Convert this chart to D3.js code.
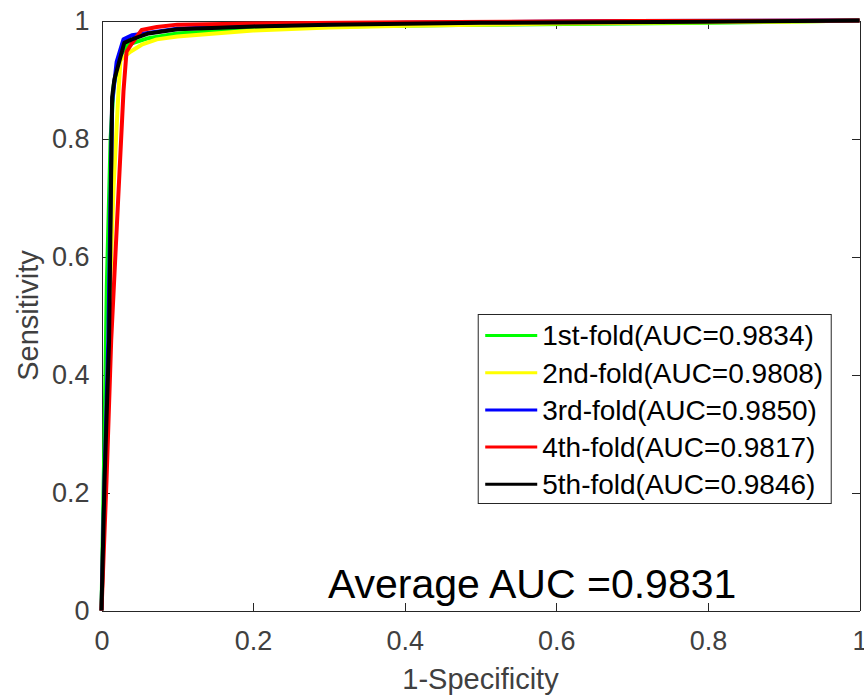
<!DOCTYPE html>
<html>
<head>
<meta charset="utf-8">
<script src="https://cdn.jsdelivr.net/npm/d3@7"></script>
<style>
  body { margin: 0; background: #fff; }
  svg { font-family: "Liberation Sans", Arial, sans-serif; }
  .axis path, .axis line { stroke: #262626; shape-rendering: crispEdges; }
  .axis text { fill: #404040; font-size: 27px; }
</style>
</head>
<body>
<svg id="chart"></svg>
<script>
// ROC points [1-specificity, sensitivity]
const fold1 = [[0,0],[0.004,0.30],[0.007,0.55],[0.012,0.80],[0.016,0.89],[0.025,0.94],[0.033,0.958],[0.044,0.963],[0.062,0.970],[0.1,0.978],[0.2,0.986],[0.3,0.990],[0.5,0.993],[0.8,0.996],[1,1]];
const fold2 = [[0,0],[0.005,0.25],[0.010,0.50],[0.016,0.72],[0.022,0.87],[0.025,0.933],[0.038,0.947],[0.053,0.959],[0.073,0.968],[0.1,0.973],[0.2,0.983],[0.3,0.988],[0.4,0.991],[0.6,0.995],[0.9,0.998],[1,1]];
const fold3 = [[0,0],[0.004,0.22],[0.009,0.46],[0.014,0.86],[0.020,0.93],[0.029,0.968],[0.04,0.975],[0.073,0.981],[0.1,0.986],[0.2,0.991],[0.4,0.996],[0.7,0.999],[1,1]];
const fold4 = [[0,0],[0.0066,0.22],[0.0128,0.458],[0.029,0.88],[0.033,0.947],[0.04,0.961],[0.053,0.984],[0.073,0.989],[0.1,0.993],[0.2,0.995],[0.4,0.997],[0.7,0.999],[1,1]];
const fold5 = [[0,0],[0.004,0.22],[0.010,0.458],[0.014,0.87],[0.017,0.90],[0.030,0.962],[0.040,0.968],[0.062,0.978],[0.1,0.985],[0.2,0.990],[0.3,0.993],[0.5,0.996],[0.8,0.998],[1,1]];

const foldLabels = ["1st-fold(AUC=0.9834)", "2nd-fold(AUC=0.9808)", "3rd-fold(AUC=0.9850)", "4th-fold(AUC=0.9817)", "5th-fold(AUC=0.9846)"];
const foldColors = ["#00ff00", "#ffff00", "#0000ff", "#ff0000", "#000000"];
const ticks = [0, 0.2, 0.4, 0.6, 0.8, 1];
const averageText = "Average AUC =0.9831";

const folds = [fold1, fold2, fold3, fold4, fold5];

const W = 864, H = 697;
const margin = { top: 20, right: 5, bottom: 87, left: 101 };
const width = W - margin.left - margin.right;
const height = H - margin.top - margin.bottom;

const svg = d3.select("#chart").attr("width", W).attr("height", H);
const g = svg.append("g").attr("transform", `translate(${margin.left + 0.5}, ${margin.top + 0.5})`);

const x = d3.scaleLinear().domain([0, 1]).range([0, width]);
const y = d3.scaleLinear().domain([0, 1]).range([height, 0]);
const fmt = d3.format("");

// axes with inward ticks, MATLAB box style
g.append("g").attr("class", "axis").attr("transform", `translate(0, ${height})`)
  .call(d3.axisBottom(x).tickValues(ticks).tickFormat(fmt).tickSizeInner(-8).tickSizeOuter(0).tickPadding(20));
g.append("g").attr("class", "axis")
  .call(d3.axisLeft(y).tickValues(ticks).tickFormat(fmt).tickSizeInner(-8).tickSizeOuter(0).tickPadding(12));
g.append("g").attr("class", "axis")
  .call(d3.axisTop(x).tickValues(ticks).tickFormat("").tickSizeInner(-8).tickSizeOuter(0));
g.append("g").attr("class", "axis").attr("transform", `translate(${width}, 0)`)
  .call(d3.axisRight(y).tickValues(ticks).tickFormat("").tickSizeInner(-8).tickSizeOuter(0));

const line = d3.line().x(d => x(d[0])).y(d => y(d[1]));

folds.forEach((f, i) => {
  g.append("path")
    .datum(f)
    .attr("fill", "none")
    .attr("stroke", foldColors[i])
    .attr("stroke-width", 4)
    .attr("stroke-linejoin", "round")
    .attr("d", line);
});

// axis titles
g.append("text")
  .attr("x", width / 2)
  .attr("y", height + 78)
  .attr("text-anchor", "middle")
  .attr("fill", "#404040")
  .attr("font-size", 29)
  .text("1-Specificity");

g.append("text")
  .attr("transform", `translate(${-64}, ${height / 2}) rotate(-90)`)
  .attr("text-anchor", "middle")
  .attr("fill", "#404040")
  .attr("font-size", 29)
  .text("Sensitivity");

// legend
const legend = g.append("g").attr("transform", `translate(${x(0.497)}, ${y(0.5017)})`);
legend.append("rect")
  .attr("width", 353)
  .attr("height", 189)
  .attr("fill", "#fff")
  .attr("stroke", "#262626")
  .attr("stroke-width", 1);

foldLabels.forEach((lab, i) => {
  const row = legend.append("g").attr("transform", `translate(0, ${21 + i * 37.2})`);
  row.append("line")
    .attr("x1", 7).attr("x2", 59)
    .attr("stroke", foldColors[i])
    .attr("stroke-width", 3);
  row.append("text")
    .attr("x", 64)
    .attr("dy", "0.35em")
    .attr("font-size", 28)
    .attr("fill", "#000")
    .text(lab);
});

g.append("text")
  .attr("x", x(0.2987))
  .attr("y", height - 13)
  .attr("font-size", 41)
  .attr("fill", "#000")
  .text(averageText);
</script>
</body>
</html>
